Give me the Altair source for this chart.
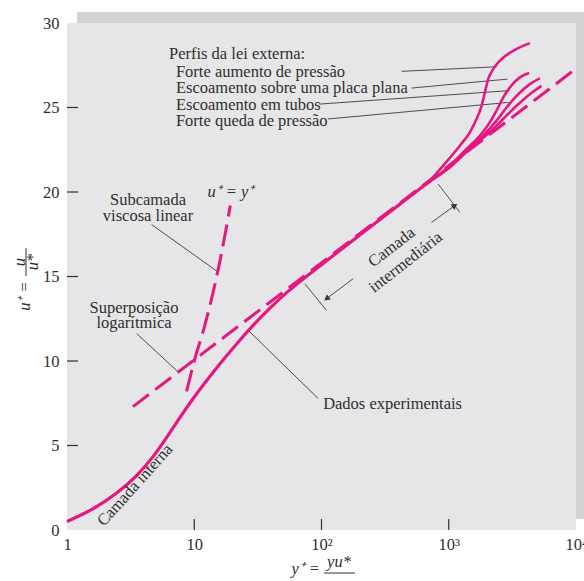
import altair as alt
import pandas as pd

W, H = 509, 507
MAG = "#e6177f"
INK = "#2e2e2e"
FONT = "Liberation Serif"

# ---- data ----
main_y = [1.0, 1.6, 2.5, 3.5, 4.8, 6.1, 7.7, 9.8, 13.3, 17, 22, 28, 40, 53, 70, 100, 200, 400, 700]
main_u = [0.5, 1.2, 2.2, 3.15, 4.35, 5.5, 6.65, 7.8, 9.1, 10.1, 11.1, 12.0, 13.2, 14.05, 14.8, 15.7, 17.45, 19.2, 20.6]

adv_y = [700, 904, 1222, 1465, 1653, 1811, 1922, 2041, 2234, 2519, 3205, 4335]
adv_u = [20.6, 21.56, 22.74, 23.53, 24.32, 25.10, 25.89, 26.68, 27.27, 27.76, 28.35, 28.81]

flat_y = [700, 1000, 1380, 1755, 2102, 2374, 2675, 3019, 3620, 4284]
flat_u = [20.6, 21.5, 22.55, 23.33, 24.12, 24.81, 25.59, 26.18, 26.78, 27.04]

pipe_y = [700, 1000, 1465, 1863, 2374, 2846, 3411, 4335, 5197]
pipe_u = [20.6, 21.45, 22.64, 23.33, 24.22, 25.0, 25.69, 26.38, 26.72]

fav_y = [700, 1000, 1555, 2102, 2675, 3411, 4335, 5355]
fav_u = [20.6, 21.4, 22.74, 23.53, 24.32, 25.10, 25.79, 26.28]

lin_y = [8.7, 10, 12, 14, 16, 19.2]
lin_u = [8.2, 10, 12, 14, 16, 19.2]

log_y = [3.3, 10000]
log_u = [7.3, 27.3]

x_tick_vals = [10, 100, 1000]
y_tick_vals = [5, 10, 15, 20, 25]
x_label_vals = [1, 10, 100, 1000, 10000]
x_label_text = ["1", "10", "10²", "10³", "10⁴"]
y_label_vals = [0, 5, 10, 15, 20, 25, 30]

# annotations (data coordinates)
left_texts = ["Perfis da lei externa:", "Forte aumento de pressão",
              "Escoamento sobre uma placa plana", "Escoamento em tubos",
              "Forte queda de pressão", "Dados experimentais"]
left_x = [6.33, 7.18, 7.18, 7.18, 7.18, 103]
left_y = [28.17, 27.08, 26.14, 25.16, 24.2, 7.44]

center_texts = ["Subcamada", "viscosa linear", "Superposição", "logarítmica"]
center_x = [4.33, 4.33, 3.36, 3.36]
center_y = [19.55, 18.6, 13.14, 12.23]

leaders = [  # x1, y1, x2, y2
    (426, 27.14, 2374, 27.41),
    (510, 26.15, 2900, 26.68),
    (96, 25.2, 3000, 26.0),
    (112, 24.32, 2950, 25.3),
    (4.63, 18.07, 15.44, 15.26),
    (3.53, 11.62, 7.49, 9.35),
    (94.2, 7.78, 26.6, 11.81),
    (74.1, 14.57, 109.6, 12.99),
    (826, 20.47, 1222, 18.8),
    (177.4, 14.87, 109.6, 13.69),
    (732.5, 18.2, 1117, 19.2),
]

xs = alt.Scale(type="log", domain=[1, 10000])
ys = alt.Scale(domain=[0, 30])

label_expr = " : ".join(
    [f"datum.value >= {v} ? '{t}'" for v, t in zip(x_label_vals[::-1], x_label_text[::-1])]
) + " : ''"

xaxis = alt.Axis(values=x_label_vals, labelExpr=label_expr, tickSize=0, domain=False,
                 grid=False, title=None, labelFlush=False, labelOverlap=False,
                 labelPadding=6, labelFontSize=16.5, labelFont=FONT, labelColor=INK)
yaxis = alt.Axis(values=y_label_vals, tickSize=0, domain=False, grid=False, title=None,
                 labelFlush=False, labelOverlap=False, labelPadding=8, labelFontSize=16.5,
                 labelFont=FONT, labelColor=INK)


def X(field):
    return alt.X(field, type="quantitative", scale=xs, axis=xaxis)


def Y(field):
    return alt.Y(field, type="quantitative", scale=ys, axis=yaxis)


one = pd.DataFrame({"a": [0]})

shadow = alt.Chart(one).mark_rect(color="#d3d3d5").encode(
    x=alt.value(10), x2=alt.value(W + 9), y=alt.value(-11), y2=alt.value(H - 11))
plotbg = alt.Chart(one).mark_rect(color="#e6e6e8").encode(
    x=alt.value(0), x2=alt.value(W), y=alt.value(0), y2=alt.value(H))


def line(xv, yv, width=3.0, dash=None, interp="monotone"):
    kw = dict(color=MAG, strokeWidth=width, interpolate=interp, strokeCap="butt")
    if dash:
        kw["strokeDash"] = dash
    return alt.Chart(pd.DataFrame({"yplus": xv, "uplus": yv})).mark_line(**kw).encode(
        x=X("yplus"), y=Y("uplus"))


main = line(main_y, main_u, 3.2, interp="basis")
adv = line(adv_y, adv_u, 2.6)
flat = line(flat_y, flat_u, 2.6)
pipe = line(pipe_y, pipe_u, 2.6)
fav = line(fav_y, fav_u, 2.6)
lin = line(lin_y, lin_u, 3.0, dash=[22, 8])
logl = line(log_y, log_u, 3.0, dash=[20, 8])

xt = alt.Chart(pd.DataFrame({"v": x_tick_vals})).mark_rule(color=INK, strokeWidth=1.2).encode(
    x=X("v"), y=alt.value(H - 11), y2=alt.value(H))
yt = alt.Chart(pd.DataFrame({"v": y_tick_vals})).mark_rule(color=INK, strokeWidth=1.2).encode(
    y=Y("v"), x=alt.value(0), x2=alt.value(11))

ldf = pd.DataFrame(leaders, columns=["x1", "y1", "x2", "y2"])
lead = alt.Chart(ldf).mark_rule(color="#3a3a3a", strokeWidth=0.9).encode(
    x=X("x1"), y=Y("y1"), x2="x2:Q", y2="y2:Q")

heads = alt.Chart(pd.DataFrame({"x": [109.6, 1117], "y": [13.69, 19.2], "ang": [143, 324]})).mark_point(
    shape="triangle-right", filled=True, size=45, color="#3a3a3a", opacity=1).encode(
    x=X("x"), y=Y("y"), angle=alt.Angle("ang:Q", scale=None))

tl = alt.Chart(pd.DataFrame({"x": left_x, "y": left_y, "t": left_texts})).mark_text(
    align="left", baseline="middle", font=FONT, fontSize=16.5, color=INK).encode(
    x=X("x"), y=Y("y"), text="t:N")

tc = alt.Chart(pd.DataFrame({"x": center_x, "y": center_y, "t": center_texts})).mark_text(
    align="center", baseline="middle", font=FONT, fontSize=16.5, color=INK).encode(
    x=X("x"), y=Y("y"), text="t:N")


def rot_text(t, x, y, ang, style="normal"):
    return alt.Chart(pd.DataFrame({"x": [x], "y": [y], "t": [t]})).mark_text(
        align="center", baseline="middle", font=FONT, fontSize=16.5, color=INK,
        angle=ang, fontStyle=style).encode(x=X("x"), y=Y("y"), text="t:N")


t_uy = rot_text("u⁺ = y⁺", 19.4, 20.02, 0, "italic")
t_ci = rot_text("Camada interna", 3.42, 2.66, 312)
t_cam = rot_text("Camada", 355.5, 16.73, 322)
t_int = rot_text("intermediária", 458.6, 15.85, 322)


# axis titles (placed decorations)
def ptext(t, x, y, ang=0, style="normal", align="center", size=16.5):
    return alt.Chart(one).mark_text(text=t, font=FONT, fontSize=size, color=INK, angle=ang,
                                    fontStyle=style, align=align, baseline="middle").encode(
        x=alt.value(x), y=alt.value(y))


xt1 = ptext("y⁺ =", 253, 546, style="italic", align="right")
xt2 = ptext("yu*", 272, 539, style="italic")
xbar = alt.Chart(one).mark_rule(color=INK, strokeWidth=1).encode(
    x=alt.value(257), x2=alt.value(288), y=alt.value(550))
xt3 = ptext("ν", 272, 561, style="italic")

yt1 = ptext("u⁺ =", -42, 273, ang=270, style="italic")
yt2 = ptext("u", -47, 239, ang=270, style="italic")
ybar = alt.Chart(one).mark_rule(color=INK, strokeWidth=1).encode(
    y=alt.value(225), y2=alt.value(253), x=alt.value(-41))
yt3 = ptext("u*", -34, 239, ang=270, style="italic")

chart = alt.layer(
    shadow, plotbg, xt, yt, lead, heads,
    logl, lin, main, adv, flat, pipe, fav,
    tl, tc, t_uy, t_ci, t_cam, t_int,
    xt1, xt2, xbar, xt3, yt1, yt2, ybar, yt3,
).properties(
    width=W, height=H,
    autosize=alt.AutoSizeParams(type="none"),
    padding={"left": 67, "top": 23, "right": 8, "bottom": 51},
).configure(background="white").configure_view(stroke=None, fill=None)

chart.save("out.html", embed_options={"renderer": "svg", "actions": False})
